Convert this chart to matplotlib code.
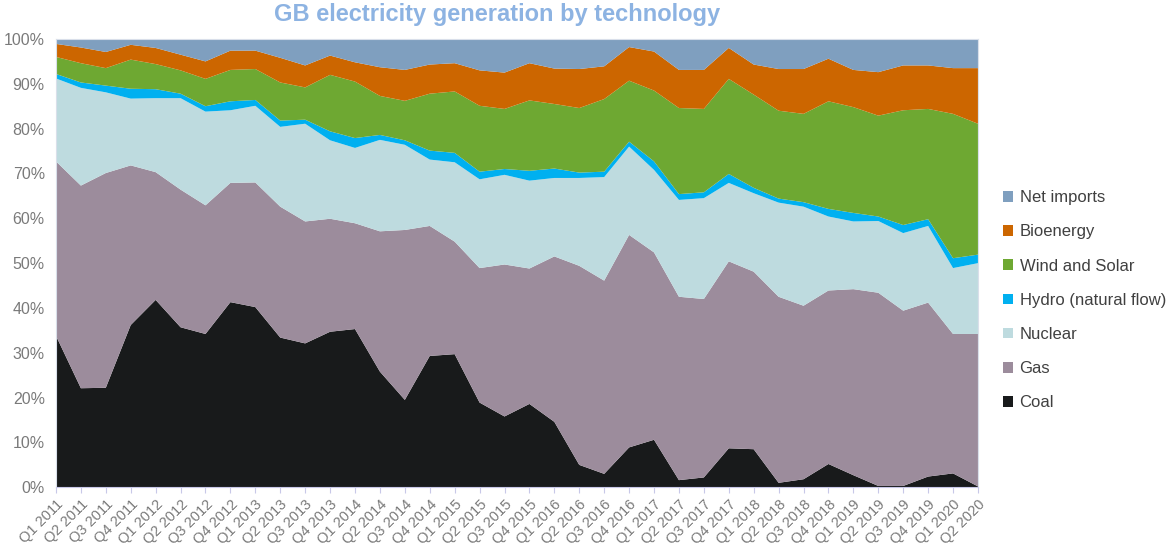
import matplotlib.pyplot as plt
import numpy as np

# Trimestres
quarters = ["Q%d %d" % (q, y) for y in range(2011, 2021) for q in range(1, 5)][:38]

# Parts de production (%) par technologie
coal = [33.8, 22.1, 22.2, 36.2, 41.8, 35.7, 34.2, 41.3, 40.2, 33.4, 32.1, 34.7, 35.3, 25.8,
        19.5, 29.3, 29.7, 18.9, 15.8, 18.6, 14.6, 5.0, 3.0, 8.9, 10.6, 1.6, 2.2, 8.7,
        8.5, 1.0, 1.8, 5.2, 2.7, 0.3, 0.3, 2.4, 3.1, 0.2]
gas = [38.9, 45.2, 47.9, 35.6, 28.5, 30.7, 28.7, 26.6, 27.8, 29.2, 27.2, 25.2, 23.6, 31.3,
       37.9, 29.0, 25.1, 30.0, 33.9, 30.2, 36.9, 44.4, 43.1, 47.4, 41.8, 40.9, 39.8, 41.7,
       39.6, 41.5, 38.7, 38.7, 41.5, 43.1, 39.1, 38.8, 31.1, 34.0]
nuclear = [18.5, 21.8, 18.0, 14.9, 16.5, 20.4, 20.9, 16.2, 17.1, 17.8, 21.8, 17.5, 16.8, 20.4,
           19.0, 14.8, 17.7, 19.8, 20.0, 19.6, 17.5, 19.6, 23.1, 19.7, 18.4, 21.6, 22.5, 17.5,
           17.5, 21.0, 22.1, 16.5, 15.1, 16.0, 17.3, 17.1, 14.7, 15.8]
hydro = [1.0, 1.2, 1.5, 2.2, 2.0, 1.0, 1.2, 2.0, 1.3, 1.4, 0.9, 2.0, 2.2, 1.1,
         1.0, 2.0, 2.1, 1.7, 1.3, 2.2, 2.1, 1.2, 1.2, 1.1, 1.9, 1.3, 1.3, 2.0,
         1.2, 0.9, 1.0, 1.7, 1.9, 1.0, 1.8, 1.5, 2.2, 1.9]
wind = [3.8, 4.3, 3.9, 6.5, 5.6, 5.2, 6.1, 7.0, 6.9, 8.5, 7.2, 12.6, 12.6, 8.7,
        8.8, 12.7, 13.7, 14.7, 13.4, 15.7, 14.4, 14.4, 16.2, 13.6, 15.8, 19.2, 18.6, 21.2,
        20.8, 19.6, 19.7, 24.0, 23.6, 22.5, 25.6, 24.6, 32.2, 29.2]
bio = [2.9, 3.5, 3.6, 3.3, 3.6, 3.5, 3.9, 4.3, 4.1, 5.5, 4.9, 4.3, 4.3, 6.4,
       6.9, 6.5, 6.3, 7.9, 8.1, 8.3, 7.9, 8.7, 7.3, 7.5, 8.7, 8.5, 8.7, 6.9,
       6.7, 9.3, 10.0, 9.5, 8.3, 9.7, 10.0, 9.7, 10.2, 12.4]
imports = [1.1, 1.9, 2.9, 1.3, 2.0, 3.5, 5.0, 2.6, 2.6, 4.2, 5.9, 3.7, 5.2, 6.3,
           6.9, 5.7, 5.4, 7.0, 7.5, 5.4, 6.6, 6.7, 6.1, 1.8, 2.8, 6.9, 6.9, 2.0,
           5.7, 6.7, 6.7, 4.4, 6.9, 7.4, 5.9, 5.9, 6.5, 6.5]

labels = ["Coal", "Gas", "Nuclear", "Hydro (natural flow)", "Wind and Solar", "Bioenergy", "Net imports"]
colors = ["#181a1b", "#9c8c9c", "#bedbdf", "#00b0f0", "#6ea832", "#cc6600", "#7f9fbf"]

plt.rcParams['font.family'] = ['Liberation Sans', 'DejaVu Sans']

fig = plt.figure(figsize=(11.76, 5.46), dpi=100)
ax = fig.add_axes([0.0476, 0.1075, 0.7840, 0.8211])

x = np.arange(len(quarters))
ax.stackplot(x, coal, gas, nuclear, hydro, wind, bio, imports,
             colors=colors, labels=labels, linewidth=0)

ax.set_xlim(0, len(quarters) - 1)
ax.set_ylim(0, 100)
ax.set_yticks(range(0, 101, 10))
ax.set_yticklabels(["%d%%" % v for v in range(0, 101, 10)], fontsize=11.5, color="#7a7a7a")
ax.set_xticks(x)
ax.set_xticklabels(quarters, rotation=45, ha="right", rotation_mode="anchor",
                   fontsize=10.5, color="#7a7a7a")
ax.tick_params(axis="y", length=0, pad=8)
ax.tick_params(axis="x", length=4, color="#c8c8e8", pad=3)

# cadre clair autour de la zone de tracé
for s in ["top", "right", "left"]:
    ax.spines[s].set_color("#d9dfea")
ax.spines["bottom"].set_color("#c8c8e8")

fig.text(0.423, 0.973, "GB electricity generation by technology", ha="center", va="center",
         fontsize=17, fontweight="bold", color="#8db3e2")

# Légende (ordre inversé : Net imports en haut)
h, l = ax.get_legend_handles_labels()
fig.legend(h[::-1], l[::-1], loc="center left", bbox_to_anchor=(0.840, 0.45),
           frameon=False, fontsize=12, handlelength=0.6, handleheight=0.6,
           handletextpad=0.4, labelspacing=1.15, labelcolor="#404040")

plt.savefig("out.png", dpi=100)
